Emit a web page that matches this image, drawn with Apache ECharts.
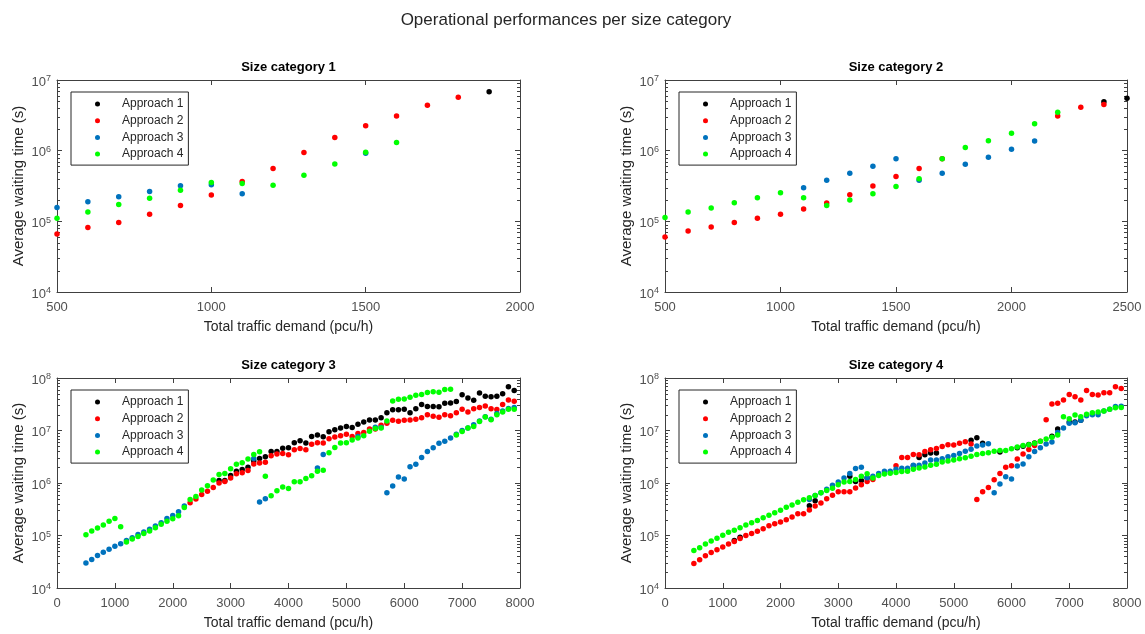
<!DOCTYPE html>
<html lang="en">
<head>
<meta charset="UTF-8">
<title>Operational performances per size category</title>
<script src="https://cdn.jsdelivr.net/npm/echarts@6/dist/echarts.min.js"></script>
<style>
    html, body { margin: 0; padding: 0; background: #fff; }
    #chart { width: 1145px; height: 634px; }
</style>
</head>
<body>
<div id="chart"></div>
<script>
    // total traffic demand (pcu/h) per panel
    const demand1 = [500, 600, 700, 800, 900, 1000, 1100, 1200, 1300, 1400, 1500, 1600, 1700, 1800, 1900];
    const demand2 = [500, 600, 700, 800, 900, 1000, 1100, 1200, 1300, 1400, 1500, 1600, 1700, 1800, 1900,
        2000, 2100, 2200, 2300, 2400, 2500];
    const demand34 = [500, 600, 700, 800, 900, 1000, 1100, 1200, 1300, 1400,
        1500, 1600, 1700, 1800, 1900, 2000, 2100, 2200, 2300, 2400,
        2500, 2600, 2700, 2800, 2900, 3000, 3100, 3200, 3300, 3400,
        3500, 3600, 3700, 3800, 3900, 4000, 4100, 4200, 4300, 4400,
        4500, 4600, 4700, 4800, 4900, 5000, 5100, 5200, 5300, 5400,
        5500, 5600, 5700, 5800, 5900, 6000, 6100, 6200, 6300, 6400,
        6500, 6600, 6700, 6800, 6900, 7000, 7100, 7200, 7300, 7400,
        7500, 7600, 7700, 7800, 7900];

    // average waiting time (s), null = no visible point
    const cat1A1 = [null, null, null, null, null, null, null, null, null, null, null, null, null, null, 6.8e6];
    const cat1A2 = [6.6e4, 8.2e4, 9.6e4, 1.26e5, 1.67e5, 2.35e5, 3.66e5, 5.6e5, 9.4e5, 1.54e6, 2.25e6, 3.1e6, 4.4e6, 5.7e6, null];
    const cat1A3 = [1.57e5, 1.89e5, 2.22e5, 2.64e5, 3.2e5, 3.3e5, 2.45e5, null, null, null, 9.2e5, null, null, null, null];
    const cat1A4 = [1.11e5, 1.36e5, 1.73e5, 2.13e5, 2.76e5, 3.55e5, 3.43e5, 3.25e5, 4.5e5, 6.46e5, 9.5e5, 1.31e6, null, null, null];

    const cat2A1 = [null, null, null, null, null, null, null, null, null, null, null, null, null, null, null,
        null, null, null, null, 4.93e6, 5.5e6];
    const cat2A2 = [6.0e4, 7.3e4, 8.3e4, 9.6e4, 1.11e5, 1.26e5, 1.49e5, 1.81e5, 2.37e5, 3.15e5, 4.3e5, 5.6e5, 7.7e5, null, null,
        null, null, 3.1e6, 4.1e6, 4.5e6, null];
    const cat2A3 = [null, null, null, null, null, null, 2.98e5, 3.8e5, 4.8e5, 6.0e5, 7.7e5, 3.8e5, 4.8e5, 6.4e5, 8.1e5,
        1.05e6, 1.37e6, null, null, null, null];
    const cat2A4 = [1.13e5, 1.35e5, 1.55e5, 1.83e5, 2.15e5, 2.53e5, 2.15e5, 1.68e5, 2.0e5, 2.45e5, 3.1e5, 4.0e5, 7.7e5, 1.11e6, 1.38e6,
        1.77e6, 2.4e6, 3.5e6, null, null, null];

    const cat3A1 = [null, null, null, null, null, null, null, null, null, null,
        null, null, null, null, null, null, null, null, null, null,
        null, null, null, 1.12e6, 1.12e6, 1.39e6, 1.68e6, 1.80e6, 2.00e6, 2.62e6,
        2.94e6, 3.16e6, 3.98e6, 3.98e6, 4.60e6, 4.67e6, 5.87e6, 6.40e6, 5.79e6, 7.72e6,
        8.17e6, 7.61e6, 9.44e6, 1.03e7, 1.11e7, 1.19e7, 1.14e7, 1.31e7, 1.45e7, 1.58e7,
        1.58e7, 1.75e7, 2.18e7, 2.48e7, 2.48e7, 2.55e7, 2.18e7, 2.59e7, 3.12e7, 2.86e7,
        2.86e7, 2.82e7, 3.30e7, 3.35e7, 3.55e7, 4.80e7, 4.16e7, 3.76e7, 5.16e7, 4.47e7,
        4.40e7, 4.47e7, 5.01e7, 6.78e7, 5.79e7];
    const cat3A2 = [null, null, null, null, null, null, null, null, null, null,
        null, null, null, null, null, null, null, null, 4.22e5, 4.94e5,
        6.04e5, 6.98e5, 8.17e5, 1.00e6, 1.07e6, 1.24e6, 1.50e6, 1.56e6, 1.73e6, 2.30e6,
        2.41e6, 2.48e6, 3.30e6, 3.55e6, 3.65e6, 3.45e6, 4.28e6, 4.53e6, 4.28e6, 5.46e6,
        5.87e6, 5.79e6, 6.98e6, 7.50e6, 7.94e6, 8.53e6, 7.72e6, 8.79e6, 9.17e6, 1.07e7,
        1.07e7, 1.26e7, 1.37e7, 1.56e7, 1.50e7, 1.56e7, 1.58e7, 1.63e7, 1.75e7, 2.00e7,
        1.86e7, 1.78e7, 2.00e7, 1.91e7, 2.18e7, 2.55e7, 2.24e7, 2.59e7, 2.74e7, 2.94e7,
        2.59e7, 2.51e7, 3.12e7, 3.81e7, 3.60e7];
    const cat3A3 = [2.99e4, 3.50e4, 4.16e4, 4.80e4, 5.46e4, 6.22e4, 6.98e4, 8.06e4, 9.04e4, 1.04e5,
        1.17e5, 1.31e5, 1.52e5, 1.75e5, 2.11e5, 2.41e5, 2.82e5, 3.65e5, null, null,
        null, null, null, null, null, null, null, null, null, 2.94e6,
        4.34e5, 5.01e5, null, null, null, null, null, null, null, null,
        1.94e6, 3.50e6, null, null, null, null, null, 7.72e6, null, null,
        1.15e7, 1.14e7, 6.49e5, 8.79e5, 1.30e6, 1.19e6, 2.05e6, 2.27e6, 3.07e6, 3.98e6,
        4.67e6, 5.70e6, 6.22e6, 7.18e6, 8.53e6, 1.00e7, 1.11e7, 1.28e7, 1.52e7, 1.83e7,
        1.63e7, 2.11e7, 2.34e7, 2.62e7, 2.74e7];
    const cat3A4 = [1.03e5, 1.22e5, 1.39e5, 1.58e5, 1.86e5, 2.11e5, 1.47e5, 7.50e4, 8.54e4, 9.58e4,
        1.09e5, 1.22e5, 1.41e5, 1.63e5, 1.86e5, 2.08e5, 2.37e5, 3.40e5, 4.87e5, 5.54e5,
        7.39e5, 8.91e5, 1.14e6, 1.45e6, 1.52e6, 1.86e6, 2.27e6, 2.44e6, 2.86e6, 3.50e6,
        3.92e6, 1.35e6, 5.70e5, 7.08e5, 8.41e5, 7.83e5, 1.06e6, 1.06e6, 1.22e6, 1.37e6,
        1.68e6, 1.75e6, 3.76e6, 4.73e6, 5.79e6, 5.87e6, 6.59e6, 7.18e6, 7.94e6, 9.72e6,
        1.09e7, 1.12e7, 1.52e7, 3.65e7, 3.93e7, 3.98e7, 4.28e7, 4.67e7, 4.87e7, 5.31e7,
        5.46e7, 5.38e7, 6.04e7, 6.13e7, 8.17e6, 9.58e6, 1.11e7, 1.19e7, 1.48e7, 1.80e7,
        1.61e7, 2.00e7, 2.24e7, 2.55e7, 2.55e7];

    const cat4A1 = [null, null, null, null, null, null, null, 8.06e4, 9.31e4, null,
        null, null, null, null, null, null, null, null, null, null,
        3.70e5, 4.60e5, null, null, null, null, null, 1.35e6, 1.07e6, 1.12e6,
        1.24e6, null, null, null, null, null, null, null, 2.14e6, 3.07e6,
        3.45e6, 3.71e6, 3.71e6, null, null, null, null, null, 6.49e6, 7.29e6,
        5.70e6, null, null, 3.9e6, null, null, 4.7e6, 5.0e6, 5.4e6, 5.8e6,
        null, null, 7.8e6, 1.07e7, null, 1.45e7, 1.45e7, 1.56e7, null, null,
        null, null, null, null, null];
    const cat4A2 = [2.94e4, 3.45e4, 4.10e4, 4.73e4, 5.38e4, 6.04e4, 6.88e4, 7.72e4, 8.79e4, 1.00e5,
        1.09e5, 1.21e5, 1.35e5, 1.54e5, 1.68e5, 1.80e5, 2.00e5, 2.24e5, 2.59e5, 2.59e5,
        3.07e5, 3.65e5, 4.16e5, 5.01e5, 5.87e5, 6.78e5, 6.78e5, 6.78e5, 8.06e5, 9.31e5,
        1.07e6, 1.17e6, null, null, null, 2.14e6, 3.07e6, 3.07e6, 3.50e6, 3.45e6,
        3.98e6, 4.28e6, 4.53e6, 4.94e6, 5.38e6, 5.31e6, 5.70e6, 6.13e6, 5.54e6, 4.87e5,
        6.78e5, 8.17e5, 1.15e6, 1.52e6, 2.00e6, 2.14e6, 2.86e6, 3.55e6, 4.34e6, 5.16e6,
        6.22e6, 1.61e7, 3.21e7, 3.30e7, 3.81e7, 4.87e7, 4.40e7, 3.81e7, 5.79e7, 4.87e7,
        4.73e7, 5.24e7, 5.24e7, 6.78e7, 6.31e7];
    const cat4A3 = [null, null, null, null, null, null, null, null, null, null,
        null, null, null, null, null, null, null, null, null, null,
        4.87e5, 5.79e5, 6.49e5, 7.61e5, 9.04e5, 1.04e6, 1.24e6, 1.52e6, 1.88e6, 2.00e6,
        1.26e6, 1.35e6, 1.52e6, 1.68e6, 1.68e6, 1.83e6, 1.91e6, 1.91e6, 2.18e6, 2.18e6,
        2.41e6, 2.74e6, 2.74e6, 2.90e6, 3.16e6, 3.35e6, 3.65e6, 4.04e6, 4.40e6, 5.08e6,
        5.31e6, 5.62e6, 6.49e5, 9.58e5, 1.31e6, 1.19e6, 2.11e6, 2.30e6, 3.16e6, 3.98e6,
        4.67e6, 5.54e6, 6.04e6, 9.17e6, 1.12e7, 1.37e7, 1.41e7, 1.56e7, 1.91e7, 2.00e7,
        2.00e7, 2.34e7, 2.55e7, 2.86e7, 2.90e7];
    const cat4A4 = [5.16e4, 5.87e4, 6.88e4, 7.83e4, 8.91e4, 1.01e5, 1.15e5, 1.26e5, 1.41e5, 1.58e5,
        1.75e5, 1.94e5, 2.18e5, 2.44e5, 2.70e5, 3.03e5, 3.45e5, 3.81e5, 4.28e5, 4.80e5,
        5.24e5, 5.79e5, 6.49e5, 7.18e5, 7.94e5, 9.31e5, 1.04e6, 1.07e6, 1.17e6, 1.35e6,
        1.50e6, 1.24e6, 1.39e6, 1.48e6, 1.54e6, 1.58e6, 1.65e6, 1.68e6, 1.83e6, 1.94e6,
        2.02e6, 2.18e6, 2.27e6, 2.51e6, 2.62e6, 2.74e6, 2.90e6, 3.03e6, 3.25e6, 3.50e6,
        3.65e6, 3.76e6, 4.04e6, 4.16e6, 4.16e6, 4.47e6, 4.87e6, 5.16e6, 5.38e6, 5.70e6,
        6.22e6, 6.88e6, 7.40e6, 8.17e6, 1.83e7, 1.68e7, 1.97e7, 1.83e7, 2.05e7, 2.18e7,
        2.24e7, 2.34e7, 2.55e7, 2.70e7, 2.74e7];

    const seriesNames = ['Approach 1', 'Approach 2', 'Approach 3', 'Approach 4'];
    const seriesColors = ['#000000', '#ff0000', '#0072bd', '#00ff00'];

    const FONT = '"Liberation Sans", Arial, sans-serif';
    const AXIS_COLOR = '#404040';
    const LABEL_COLOR = '#505050';

    const panels = [
        {title: 'Size category 1', x: demand1, ys: [cat1A1, cat1A2, cat1A3, cat1A4],
            xMin: 500, xMax: 2000, xStep: 500, yMaxExp: 7, left: 57, top: 80, width: 463, height: 212},
        {title: 'Size category 2', x: demand2, ys: [cat2A1, cat2A2, cat2A3, cat2A4],
            xMin: 500, xMax: 2500, xStep: 500, yMaxExp: 7, left: 665, top: 80, width: 462, height: 212},
        {title: 'Size category 3', x: demand34, ys: [cat3A1, cat3A2, cat3A3, cat3A4],
            xMin: 0, xMax: 8000, xStep: 1000, yMaxExp: 8, left: 57, top: 378, width: 463, height: 210},
        {title: 'Size category 4', x: demand34, ys: [cat4A1, cat4A2, cat4A3, cat4A4],
            xMin: 0, xMax: 8000, xStep: 1000, yMaxExp: 8, left: 665, top: 378, width: 462, height: 210}
    ];

    function pairs(xs, ys) {
        const out = [];
        for (let i = 0; i < xs.length; i++) {
            if (ys[i] != null) out.push([xs[i], ys[i]]);
        }
        return out;
    }

    // 2..9 x 10^e minor tick values of a log axis
    function minorTicks(lo, hi) {
        const out = [];
        for (let e = lo; e < hi; e++) {
            for (let k = 2; k <= 9; k++) out.push(k * Math.pow(10, e));
        }
        return out;
    }

    const grids = [], xAxes = [], yAxes = [], series = [], legends = [];
    const titles = [{
        text: 'Operational performances per size category',
        left: 566, top: 12, textAlign: 'center', padding: 0,
        textStyle: {fontFamily: FONT, fontSize: 17, fontWeight: 'normal', color: '#262626'}
    }];

    panels.forEach((p, i) => {
        grids.push({left: p.left, top: p.top, width: p.width, height: p.height, containLabel: false});
        titles.push({
            text: p.title, left: p.left + p.width / 2, top: p.top - 19, textAlign: 'center', padding: 0,
            textStyle: {fontFamily: FONT, fontSize: 13, fontWeight: 'bold', color: '#000'}
        });

        const xBase = {
            type: 'value', gridIndex: i, min: p.xMin, max: p.xMax, interval: p.xStep,
            splitLine: {show: false},
            axisLine: {show: true, onZero: false, lineStyle: {color: AXIS_COLOR, width: 1}},
            axisTick: {show: true, inside: true, length: 5, lineStyle: {color: AXIS_COLOR}}
        };
        xAxes.push(Object.assign({}, xBase, {
            position: 'bottom',
            axisLabel: {show: true, margin: 9, color: LABEL_COLOR, fontFamily: FONT, fontSize: 13,
                formatter: v => String(v)},
            name: 'Total traffic demand (pcu/h)', nameLocation: 'middle', nameGap: 28,
            nameTextStyle: {fontFamily: FONT, fontSize: 14, color: '#262626'}
        }));
        xAxes.push(Object.assign({}, xBase, {position: 'top', axisLabel: {show: false}}));

        const yBase = {
            type: 'log', logBase: 10, gridIndex: i,
            min: 1e4, max: Math.pow(10, p.yMaxExp), splitNumber: p.yMaxExp - 4,
            splitLine: {show: false},
            axisLine: {show: true, onZero: false, lineStyle: {color: AXIS_COLOR, width: 1}},
            axisTick: {show: true, inside: true, length: 5, lineStyle: {color: AXIS_COLOR}}
        };
        yAxes.push(Object.assign({}, yBase, {
            position: 'left',
            axisLabel: {
                show: true, margin: 6, color: LABEL_COLOR, fontFamily: FONT,
                formatter: v => '{m|10}{e|' + Math.round(Math.log10(v)) + '}',
                rich: {
                    m: {fontFamily: FONT, fontSize: 13, color: LABEL_COLOR, lineHeight: 13, padding: [4, 0, 0, 0]},
                    e: {fontFamily: FONT, fontSize: 9, color: LABEL_COLOR, verticalAlign: 'top', padding: [1, 0, 0, 0]}
                }
            },
            name: 'Average waiting time (s)', nameLocation: 'middle', nameGap: 31, nameRotate: 90,
            nameTextStyle: {fontFamily: FONT, fontSize: 15, color: '#262626'}
        }));
        yAxes.push(Object.assign({}, yBase, {position: 'right', axisLabel: {show: false}}));

        // minor log ticks on both frame sides, placed through the axis scales
        const xMin = p.xMin, xMax = p.xMax;
        series.push({
            type: 'custom', xAxisIndex: i * 2, yAxisIndex: i * 2,
            silent: true, clip: false, z: 1,
            data: minorTicks(4, p.yMaxExp).map(v => [xMin, v]),
            renderItem: (params, api) => {
                const v = api.value(1);
                const l = api.coord([xMin, v]);
                const r = api.coord([xMax, v]);
                const y = Math.round(l[1]) + 0.5;
                const style = {stroke: AXIS_COLOR, lineWidth: 1};
                return {
                    type: 'group',
                    children: [
                        {type: 'line', shape: {x1: l[0], y1: y, x2: l[0] + 3, y2: y}, style: style},
                        {type: 'line', shape: {x1: r[0] - 3, y1: y, x2: r[0], y2: y}, style: style}
                    ]
                };
            }
        });

        p.ys.forEach((ys, k) => {
            series.push({
                name: seriesNames[k], type: 'scatter',
                xAxisIndex: i * 2, yAxisIndex: i * 2,
                symbol: 'circle', symbolSize: 5.5,
                itemStyle: {color: seriesColors[k], opacity: 1},
                data: pairs(p.x, ys)
            });
        });

        legends.push({
            data: seriesNames, orient: 'vertical',
            left: p.left + 14, top: p.top + 12,
            padding: [5, 5, 4, 24], itemGap: 2.7, itemWidth: 5, itemHeight: 5,
            icon: 'circle', backgroundColor: '#fff',
            borderColor: '#262626', borderWidth: 1, borderRadius: 0,
            textStyle: {fontFamily: FONT, fontSize: 12, color: '#262626', lineHeight: 14, padding: [0, 0, 0, 17]}
        });
    });

    const chart = echarts.init(document.getElementById('chart'));
    chart.setOption({
        animation: false,
        backgroundColor: '#fff',
        title: titles,
        legend: legends,
        grid: grids,
        xAxis: xAxes,
        yAxis: yAxes,
        series: series
    });
</script>
</body>
</html>
